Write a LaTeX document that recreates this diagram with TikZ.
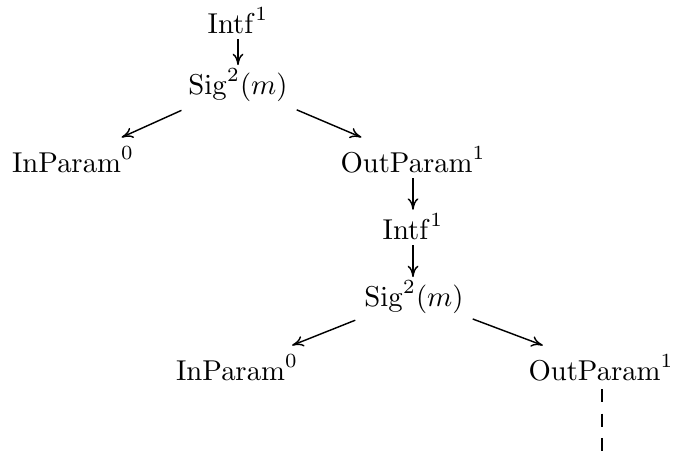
\documentclass[tikz,border=0pt]{standalone}
\usetikzlibrary{arrows.meta}
\begin{document}
\begin{tikzpicture}[x={(0.3484pt,0)}, y={(0,-0.3484pt)},
  lbl/.style={anchor=base, inner sep=3pt},
  edge/.style={-{To[length=4pt,width=3.8pt]}, line width=0.5pt},
  vedge/.style={edge, shorten >=-2pt, shorten <=-1pt},
  dashedge/.style={line width=0.5pt, dash pattern=on 4.5pt off 4pt}]
\useasboundingbox (0,0) rectangle (673,457);
\node[lbl] (intfA) at (238,33) {$\mathrm{Intf}^1$};
\node[lbl] (sigA) at (238,94) {$\mathrm{Sig}^2(m)$};
\node[lbl] (inA) at (73,172) {$\mathrm{InParam}^0$};
\node[lbl] (outA) at (413,172) {$\mathrm{OutParam}^1$};
\node[lbl] (intfB) at (413,239) {$\mathrm{Intf}^1$};
\node[lbl] (sigB) at (414,306) {$\mathrm{Sig}^2(m)$};
\node[lbl] (inB) at (237,380) {$\mathrm{InParam}^0$};
\node[lbl] (outB) at (601,380) {$\mathrm{OutParam}^1$};
\coordinate (endB) at (602,460);
\draw[vedge] (intfA.south) -- (intfA.south |- sigA.north);
\draw[edge] (sigA) -- (inA);
\draw[edge] (sigA) -- (outA);
\draw[vedge] (outA.south -| intfB) -- (intfB.north);
\draw[vedge] (intfB.south) -- (intfB.south |- sigB.north);
\draw[edge] (sigB) -- (inB);
\draw[edge] (sigB) -- (outB);
\draw[dashedge] (outB.south -| endB) -- (endB);
\end{tikzpicture}
\end{document}
